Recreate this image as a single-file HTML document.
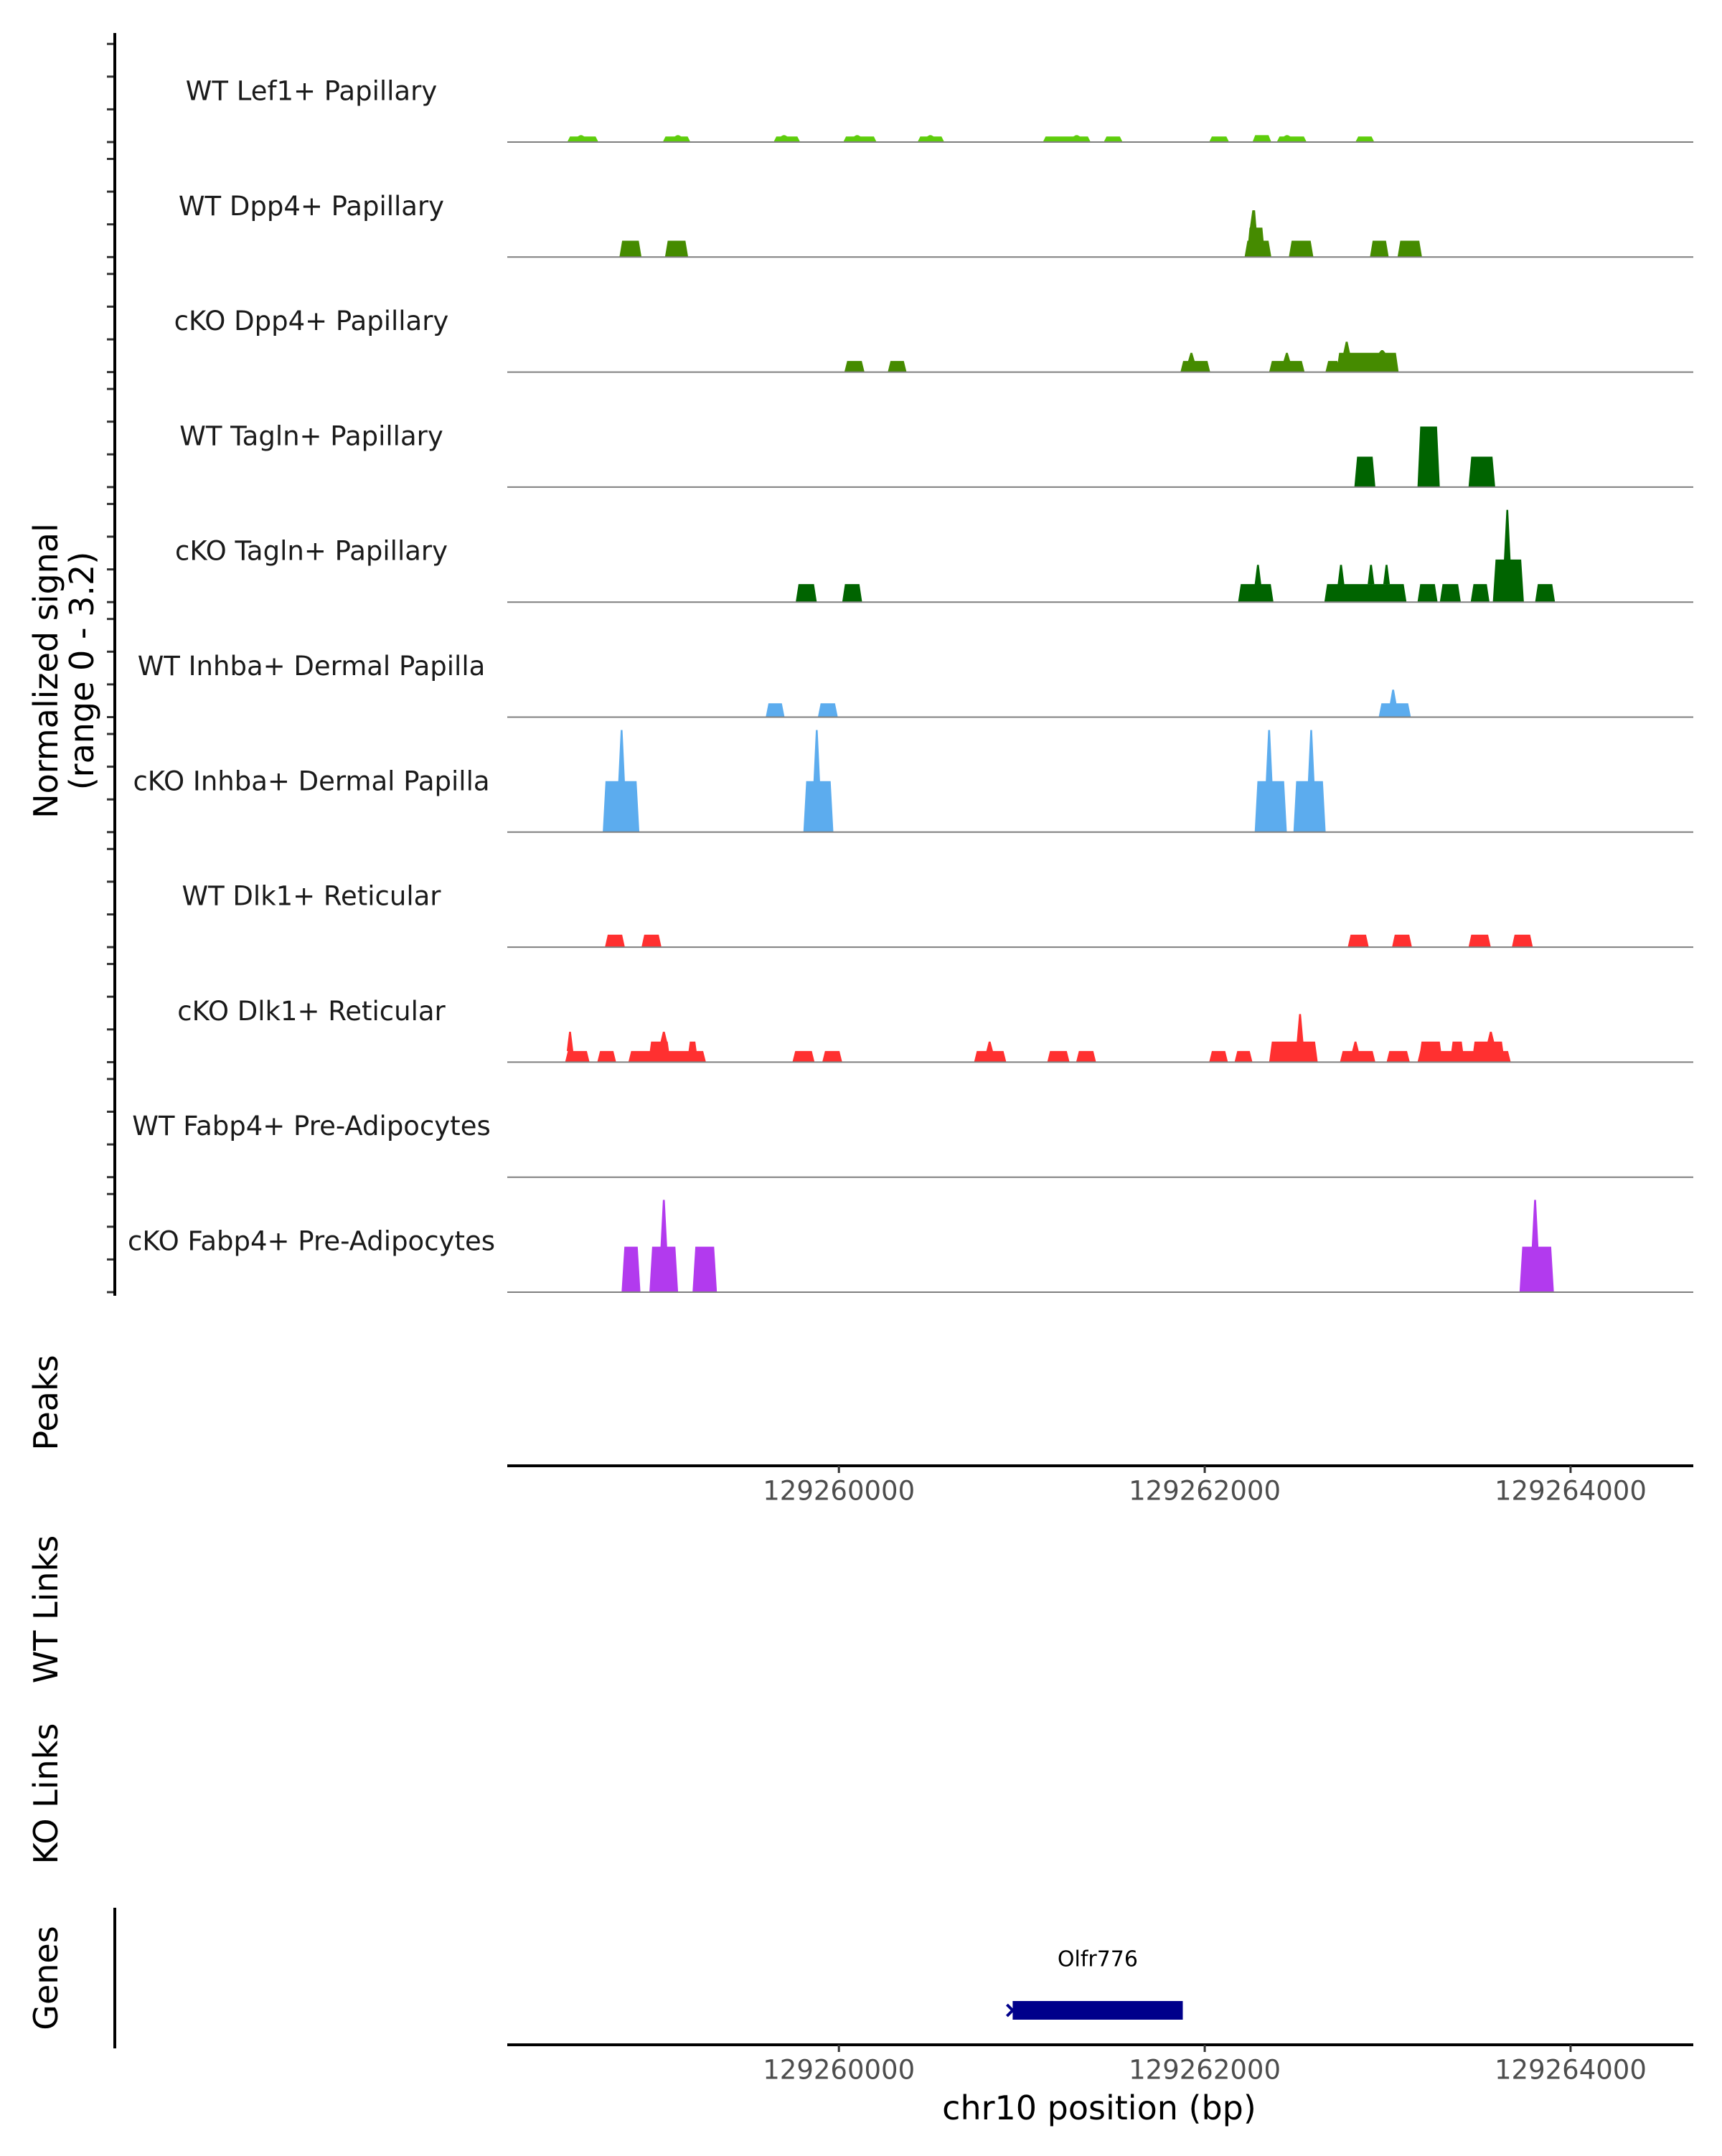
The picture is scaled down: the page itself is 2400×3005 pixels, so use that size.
<!DOCTYPE html>
<html><head><meta charset="utf-8"><style>
html,body{margin:0;padding:0;background:#fff;}
svg text{font-family:"DejaVu Sans","Liberation Sans",sans-serif;}
</style></head><body>
<svg id="chart" xmlns="http://www.w3.org/2000/svg" width="2400" height="3000" viewBox="0 0 2400 3000">
<rect width="2400" height="3000" fill="#fff"/>
<g id="tracks"></g>
<g id="axes"></g>
</svg>
<script>
// ---- data ----
const trackNames = ["WT Lef1+ Papillary","WT Dpp4+ Papillary","cKO Dpp4+ Papillary","WT Tagln+ Papillary","cKO Tagln+ Papillary","WT Inhba+ Dermal Papilla","cKO Inhba+ Dermal Papilla","WT Dlk1+ Reticular","cKO Dlk1+ Reticular","WT Fabp4+ Pre-Adipocytes","cKO Fabp4+ Pre-Adipocytes"];
const trackColors = ["#5ECD0C","#458B00","#458B00","#006400","#006400","#5CACEE","#5CACEE","#FF3030","#FF3030","#B23AEE","#B23AEE"];
// peaks: [start bp, end bp, base value, spike bp (or 0), spike value]
const peaksLef1 = [[129258515,129258685,0.17,129258590,0.21],[129259037,129259188,0.17,129259120,0.21],[129259643,129259788,0.17,129259700,0.21],[129260024,129260206,0.17,129260100,0.21],[129260430,129260576,0.17,129260500,0.21],[129261115,129261376,0.17,129261300,0.21],[129261448,129261551,0.17,0,0],[129262024,129262133,0.17,0,0],[129262261,129262364,0.21,0,0],[129262394,129262557,0.17,129262450,0.21],[129262824,129262927,0.17,0,0]];
const peaksWTDpp4 = [[129258800,129258921,0.5,0,0],[129259049,129259176,0.5,0,0],[129262218,129262364,0.5,129262270,1.43],[129262230,129262330,0.9,129262265,1.43],[129262460,129262594,0.5,0,0],[129262903,129263006,0.5,0,0],[129263054,129263188,0.5,0,0]];
const peaksKODpp4 = [[129260030,129260140,0.34,0,0],[129260267,129260370,0.34,0,0],[129261867,129262030,0.34,129261927,0.59],[129262352,129262546,0.34,129262449,0.59],[129262660,129262740,0.34,0,0],[129262720,129263060,0.59,129262776,0.93],[129262940,129263000,0.59,129262970,0.67]];
const peaksWTTagln = [[129262818,129262933,0.93,0,0],[129263163,129263285,1.85,0,0],[129263442,129263588,0.93,0,0]];
const peaksKOTagln = [[129259764,129259879,0.55,0,0],[129260018,129260127,0.55,0,0],[129262182,129262376,0.55,129262291,1.14],[129262654,129263103,0.55,129262745,1.14],[129262900,129262920,0.55,129262909,1.14],[129262985,129263005,0.55,129262994,1.14],[129263163,129263273,0.55,0,0],[129263285,129263400,0.55,0,0],[129263454,129263557,0.55,0,0],[129263575,129263745,1.3,129263654,2.82],[129263806,129263915,0.55,0,0]];
const peaksWTInhba = [[129259600,129259703,0.42,0,0],[129259885,129259994,0.42,0,0],[129262951,129263127,0.42,129263030,0.84]];
const peaksKOInhba = [[129258709,129258909,1.56,129258812,3.12],[129259806,129259970,1.56,129259879,3.12],[129262273,129262449,1.56,129262352,3.12],[129262485,129262661,1.56,129262582,3.12]];
const peaksWTDlk1 = [[129258721,129258830,0.38,0,0],[129258921,129259030,0.38,0,0],[129262782,129262897,0.38,0,0],[129263024,129263133,0.38,0,0],[129263442,129263564,0.38,0,0],[129263679,129263794,0.38,0,0]];
const peaksKODlk1 = [[129258503,129258637,0.34,129258530,0.93],[129258679,129258782,0.34,0,0],[129258849,129259273,0.34,0,0],[129258958,129259079,0.63,129259043,0.93],[129259170,129259230,0.63,0,0],[129259746,129259867,0.34,0,0],[129259909,129260018,0.34,0,0],[129260739,129260915,0.34,129260824,0.63],[129261139,129261261,0.34,0,0],[129261297,129261406,0.34,0,0],[129262024,129262127,0.34,0,0],[129262163,129262261,0.34,0,0],[129262352,129262618,0.63,129262521,1.47],[129262739,129262933,0.34,129262824,0.63],[129262994,129263121,0.34,0,0],[129263163,129263673,0.34,0,0],[129263170,129263300,0.63,0,0],[129263340,129263420,0.63,0,0],[129263460,129263640,0.63,129263564,0.93]];
const peaksWTFabp4 = [];
const peaksKOFabp4 = [[129258812,129258915,1.39,0,0],[129258964,129259121,1.39,129259043,2.82],[129259200,129259333,1.39,0,0],[129263721,129263909,1.39,129263806,2.82]];
const trackPeaks = [peaksLef1,peaksWTDpp4,peaksKODpp4,peaksWTTagln,peaksKOTagln,peaksWTInhba,peaksKOInhba,peaksWTDlk1,peaksKODlk1,peaksWTFabp4,peaksKOFabp4];
const xTicks = [129260000,129262000,129264000];
const xDomain = [129258187,129264671];
const geneName = "Olfr776";
const geneRange = [129260950,129261880];

// ---- scales ----
const NS="http://www.w3.org/2000/svg";
const X0=707, X1=2360;
function xs(bp){return X0+(bp-xDomain[0])/(xDomain[1]-xDomain[0])*(X1-X0);}
const base0=198, trackH=160.3, unit=45.6;
function ys(i,v){return base0+i*trackH - v*unit;}
function mk(tag,attrs,parent){const e=document.createElementNS(NS,tag);for(const k in attrs)e.setAttribute(k,attrs[k]);parent.appendChild(e);return e;}
const gT=document.getElementById('tracks'), gA=document.getElementById('axes');

trackNames.forEach((name,i)=>{
  const g=mk('g',{},gT);
  
  
  const b=base0+i*trackH;
  trackPeaks[i].forEach(p=>{
    const [s,e,v,sp,sv]=p; const d=15, sd=18;
    let pts=[[s,0],[s+d,v]];
    if(sp){pts.push([sp-sd,v],[sp-5,sv],[sp+5,sv],[sp+sd,v]);}
    pts.push([e-d,v],[e,0]);
    const poly=mk('polygon',{points:pts.map(q=>xs(q[0]).toFixed(1)+','+ys(i,q[1]).toFixed(1)).join(' '),fill:trackColors[i]},g);
    
    
  });
  const ln=mk('line',{x1:X0,x2:X1,y1:b,y2:b,stroke:'#7f7f7f','stroke-width':2},g);
  
  
  const t=mk('text',{x:434,y:b-71,'font-size':37,'text-anchor':'middle','dominant-baseline':'central',fill:'#1a1a1a'},g);
  t.textContent=name;
  
  
  for(let k=0;k<4;k++){
    const tk=mk('line',{x1:149,x2:159,y1:ys(i,k),y2:ys(i,k),stroke:'#333','stroke-width':3},gA);
    
    
  }
});
const ya=mk('line',{x1:160,x2:160,y1:46,y2:1806,stroke:'#000','stroke-width':4},gA);


function rotText(txt,x,y,name,size){
  const t=mk('text',{x:x,y:y,'font-size':size||46,'text-anchor':'middle','dominant-baseline':'central',transform:`rotate(-90 ${x} ${y})`,fill:'#000'},gA);
  t.textContent=txt;
  
  
}
rotText("Normalized signal",64,935,'y-axis-title');
rotText("(range 0 - 3.2)",114,935,'y-axis-range');
rotText("Peaks",64,1955,'peaks-label');
rotText("WT Links",64,2243,'wt-links-label');
rotText("KO Links",64,2500,'ko-links-label');
rotText("Genes",64,2757,'genes-label');

function xAxis(y,name){
  const l=mk('line',{x1:X0,x2:X1,y1:y,y2:y,stroke:'#000','stroke-width':4},gA);
  
  
  xTicks.forEach(v=>{
    const tk=mk('line',{x1:xs(v),x2:xs(v),y1:y,y2:y+10,stroke:'#333','stroke-width':3},gA);
    
    
    const t=mk('text',{x:xs(v),y:y+35,'font-size':37,'text-anchor':'middle','dominant-baseline':'central',fill:'#4d4d4d'},gA);
    t.textContent=v;
    
    
  });
}
xAxis(2043,'peaks-x-axis');
xAxis(2850,'genes-x-axis');
const ga=mk('line',{x1:160,x2:160,y1:2659,y2:2855,stroke:'#000','stroke-width':4},gA);


const gb=mk('rect',{x:xs(geneRange[0]),y:2789,width:xs(geneRange[1])-xs(geneRange[0]),height:26,fill:'#00008B'},gA);


const ar=mk('path',{d:`M${xs(geneRange[0])-8},2794 L${xs(geneRange[0])},2802 L${xs(geneRange[0])-8},2810`,stroke:'#00008B','stroke-width':4,fill:'none'},gA);


const gl=mk('text',{x:(xs(geneRange[0])+xs(geneRange[1]))/2,y:2731,'font-size':30,'text-anchor':'middle','dominant-baseline':'central',fill:'#000'},gA);
gl.textContent=geneName;


const xt=mk('text',{x:1532,y:2938,'font-size':46,'text-anchor':'middle','dominant-baseline':'central',fill:'#000'},gA);
xt.textContent="chr10 position (bp)";


</script>
</body></html>
